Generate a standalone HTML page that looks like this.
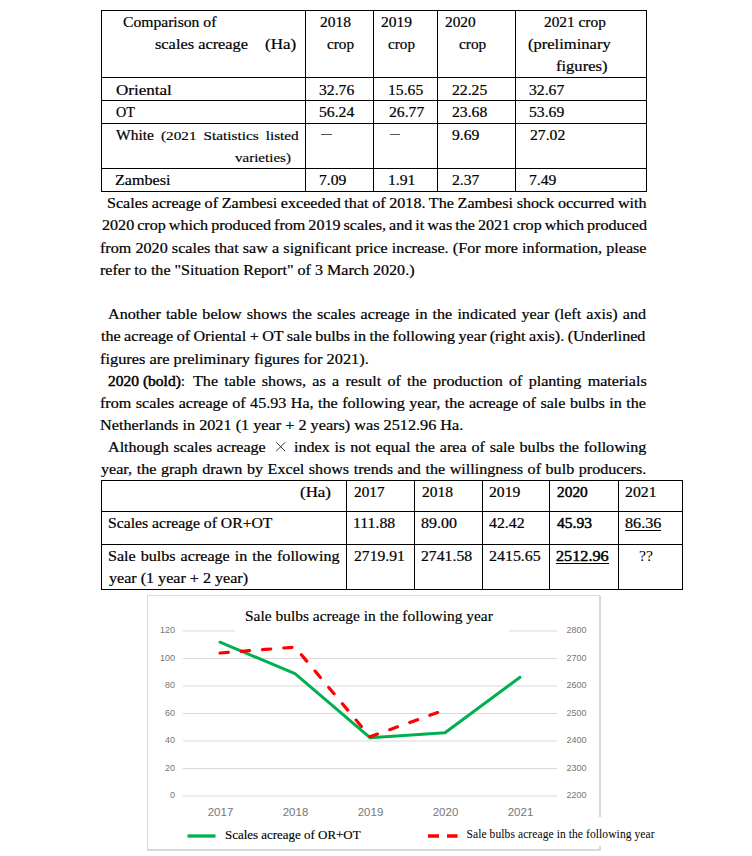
<!DOCTYPE html>
<html><head><meta charset="utf-8">
<style>
html,body{margin:0;padding:0;background:#fff;}
body{width:752px;height:856px;position:relative;overflow:hidden;font-family:"Liberation Serif", serif;color:#000;}
.t{position:absolute;white-space:pre;line-height:0;font-size:14px;transform-origin:0 0;-webkit-text-stroke:0.2px #000;}
.s{-webkit-text-stroke:0;}
.s2{-webkit-text-stroke:0.15px #000;}
.h{position:absolute;height:1px;background:#000;}
.v{position:absolute;width:1px;background:#000;}
svg{position:absolute;left:0;top:0;}
b{font-weight:normal;-webkit-text-stroke:0.45px #000;}
</style></head><body>
<!-- table 1 -->
<div class="h" style="left:101px;top:10px;width:546px"></div>
<div class="h" style="left:101px;top:77px;width:546px"></div>
<div class="h" style="left:101px;top:100px;width:546px"></div>
<div class="h" style="left:101px;top:123px;width:546px"></div>
<div class="h" style="left:101px;top:168px;width:546px"></div>
<div class="h" style="left:101px;top:191px;width:546px"></div>
<div class="v" style="left:101px;top:10px;height:182px"></div>
<div class="v" style="left:305px;top:10px;height:182px"></div>
<div class="v" style="left:373px;top:10px;height:182px"></div>
<div class="v" style="left:437px;top:10px;height:182px"></div>
<div class="v" style="left:515px;top:10px;height:182px"></div>
<div class="v" style="left:646px;top:10px;height:182px"></div>
<div class="h" style="left:321px;top:134px;width:11px;background:#555"></div>
<div class="h" style="left:390px;top:134px;width:10px;background:#555"></div>
<!-- table 2 -->
<div class="h" style="left:101px;top:480px;width:582px"></div>
<div class="h" style="left:101px;top:511px;width:582px"></div>
<div class="h" style="left:101px;top:544px;width:582px"></div>
<div class="h" style="left:101px;top:589px;width:582px"></div>
<div class="v" style="left:101px;top:480px;height:110px"></div>
<div class="v" style="left:346px;top:480px;height:110px"></div>
<div class="v" style="left:414px;top:480px;height:110px"></div>
<div class="v" style="left:482px;top:480px;height:110px"></div>
<div class="v" style="left:549px;top:480px;height:110px"></div>
<div class="v" style="left:618px;top:480px;height:110px"></div>
<div class="v" style="left:682px;top:480px;height:110px"></div>
<!-- chart -->
<svg width="752" height="856" viewBox="0 0 752 856">
  <rect x="147.5" y="595.5" width="452" height="255" fill="#fff" stroke="#d9d9d9" stroke-width="1"/>
  <line x1="600" y1="596" x2="600" y2="851" stroke="#d9d9d9" stroke-width="2"/>
  <line x1="148" y1="850" x2="601" y2="850" stroke="#d9d9d9" stroke-width="2"/>
  <g stroke="#d9d9d9" stroke-width="1.2">
    <line x1="183" y1="631" x2="557" y2="631"/>
    <line x1="183" y1="658.5" x2="557" y2="658.5"/>
    <line x1="183" y1="686" x2="557" y2="686"/>
    <line x1="183" y1="713.5" x2="557" y2="713.5"/>
    <line x1="183" y1="741" x2="557" y2="741"/>
    <line x1="183" y1="768.5" x2="557" y2="768.5"/>
    <line x1="183" y1="796" x2="557" y2="796"/>
  </g>
  <rect x="235" y="603" width="274" height="36" fill="#fff"/>
  <rect x="420" y="817" width="240" height="29" fill="#fff"/>
  <g font-family="Liberation Sans, sans-serif" font-size="9" fill="#767676" text-anchor="end">
    <text x="175.1" y="633.3">120</text>
    <text x="175.1" y="660.8">100</text>
    <text x="175.1" y="688.3">80</text>
    <text x="175.1" y="715.8">60</text>
    <text x="175.1" y="743.3">40</text>
    <text x="175.1" y="770.8">20</text>
    <text x="175.1" y="798.3">0</text>
  </g>
  <g font-family="Liberation Sans, sans-serif" font-size="9" fill="#767676">
    <text x="566.5" y="633.3">2800</text>
    <text x="566.5" y="660.8">2700</text>
    <text x="566.5" y="688.3">2600</text>
    <text x="566.5" y="715.8">2500</text>
    <text x="566.5" y="743.3">2400</text>
    <text x="566.5" y="770.8">2300</text>
    <text x="566.5" y="798.3">2200</text>
  </g>
  <g font-family="Liberation Sans, sans-serif" font-size="11.5" fill="#767676" text-anchor="middle">
    <text x="220.5" y="816">2017</text>
    <text x="295.5" y="816">2018</text>
    <text x="370.5" y="816">2019</text>
    <text x="445.5" y="816">2020</text>
    <text x="520.5" y="816">2021</text>
  </g>
  <polyline points="220,642.2 295,673.6 370,737.7 445,732.8 520,677.3" fill="none" stroke="#00b050" stroke-width="3" stroke-linejoin="round" stroke-linecap="round"/>
  <polyline points="220,653 295,647.1 370,736.7 445,709.9" fill="none" stroke="#ff0000" stroke-width="3.2" stroke-dasharray="8.3 13" stroke-linejoin="round" stroke-linecap="round"/>
  <line x1="187.5" y1="836" x2="215.5" y2="836" stroke="#00b050" stroke-width="3.3"/>
  <line x1="428" y1="836" x2="457.5" y2="836" stroke="#ff0000" stroke-width="3.3" stroke-dasharray="11 8"/>
</svg>
<svg width="752" height="856" style="position:absolute;left:0;top:0"><path d="M276.2 442.2 L285.2 451.2 M285.2 442.2 L276.2 451.2" stroke="#111" stroke-width="0.85" fill="none"/></svg>
<div class="t" style="left:122.60px;top:23px;transform:scaleX(1.1167);">Comparison of</div>
<div class="t" style="left:154.73px;top:45px;transform:scaleX(1.1679);">scales acreage</div>
<div class="t" style="left:265.18px;top:45px;transform:scaleX(1.2167);">(Ha)</div>
<div class="t" style="left:319.50px;top:23px;transform:scaleX(1.1071);">2018</div>
<div class="t" style="left:326.80px;top:45px;transform:scaleX(1.0840);">crop</div>
<div class="t" style="left:381.00px;top:23px;transform:scaleX(1.1071);">2019</div>
<div class="t" style="left:388.20px;top:45px;transform:scaleX(1.0840);">crop</div>
<div class="t" style="left:444.60px;top:23px;transform:scaleX(1.0964);">2020</div>
<div class="t" style="left:458.60px;top:45px;transform:scaleX(1.0960);">crop</div>
<div class="t" style="left:543.70px;top:23px;transform:scaleX(1.0964);">2021 crop</div>
<div class="t" style="left:528.42px;top:45px;transform:scaleX(1.1812);">(preliminary</div>
<div class="t" style="left:556.32px;top:67px;transform:scaleX(1.1810);">figures)</div>
<div class="t" style="left:115.70px;top:91px;transform:scaleX(1.2178);">Oriental</div>
<div class="t" style="left:318.88px;top:91px;transform:scaleX(1.1200);">32.76</div>
<div class="t" style="left:387.78px;top:91px;transform:scaleX(1.1200);">15.65</div>
<div class="t" style="left:452.00px;top:91px;transform:scaleX(1.1200);">22.25</div>
<div class="t" style="left:528.78px;top:91px;transform:scaleX(1.1200);">32.67</div>
<div class="t" style="left:115.70px;top:113px;transform:scaleX(1.0158);">OT</div>
<div class="t" style="left:318.88px;top:113px;transform:scaleX(1.1200);">56.24</div>
<div class="t" style="left:388.90px;top:113px;transform:scaleX(1.1200);">26.77</div>
<div class="t" style="left:452.00px;top:113px;transform:scaleX(1.1200);">23.68</div>
<div class="t" style="left:528.78px;top:113px;transform:scaleX(1.1200);">53.69</div>
<div class="t" style="left:114.55px;top:181px;transform:scaleX(1.1511);">Zambesi</div>
<div class="t" style="left:318.88px;top:181px;transform:scaleX(1.1200);">7.09</div>
<div class="t" style="left:387.78px;top:181px;transform:scaleX(1.1200);">1.91</div>
<div class="t" style="left:452.00px;top:181px;transform:scaleX(1.1200);">2.37</div>
<div class="t" style="left:528.78px;top:181px;transform:scaleX(1.1200);">7.49</div>
<div class="t" style="left:115.90px;top:136px;transform:scaleX(1.1088);">White</div>
<div class="t s2" style="left:160.78px;top:136px;font-size:12.5px;transform:scaleX(1.2200);word-spacing:2.615px;">(2021 Statistics listed</div>
<div class="t s2" style="left:235.40px;top:158px;font-size:12.5px;transform:scaleX(1.2022);">varieties)</div>
<div class="t" style="left:452.40px;top:136px;transform:scaleX(1.1200);">9.69</div>
<div class="t" style="left:529.90px;top:136px;transform:scaleX(1.1200);">27.02</div>
<div class="t" style="left:107.45px;top:204px;transform:scaleX(1.1500);word-spacing:-0.308px;">Scales acreage of Zambesi exceeded that of 2018. The Zambesi shock occurred with</div>
<div class="t" style="left:101.50px;top:226px;transform:scaleX(1.1500);word-spacing:-0.894px;">2020 crop which produced from 2019 scales, and it was the 2021 crop which produced</div>
<div class="t" style="left:100.15px;top:249px;transform:scaleX(1.1500);word-spacing:0.138px;">from 2020 scales that saw a significant price increase. (For more information, please</div>
<div class="t" style="left:100.15px;top:271px;transform:scaleX(1.1484);">refer to the "Situation Report" of 3 March 2020.)</div>
<div class="t" style="left:108.20px;top:315px;transform:scaleX(1.1500);word-spacing:0.973px;">Another table below shows the scales acreage in the indicated year (left axis) and</div>
<div class="t" style="left:101.30px;top:337px;transform:scaleX(1.1500);word-spacing:-0.525px;">the acreage of Oriental + OT sale bulbs in the following year (right axis). (Underlined</div>
<div class="t" style="left:100.13px;top:360px;transform:scaleX(1.1680);">figures are preliminary figures for 2021).</div>
<div class="t" style="left:108.20px;top:382px;transform:scaleX(1.1087);"><b>2020 (bold)</b>:</div>
<div class="t" style="left:192.60px;top:382px;transform:scaleX(1.1500);word-spacing:1.933px;">The table shows, as a result of the production of planting materials</div>
<div class="t" style="left:100.15px;top:404px;transform:scaleX(1.1500);word-spacing:0.377px;">from scales acreage of 45.93 Ha, the following year, the acreage of sale bulbs in the</div>
<div class="t" style="left:100.14px;top:426px;transform:scaleX(1.1590);">Netherlands in 2021 (1 year + 2 years) was 2512.96 Ha.</div>
<div class="t" style="left:108.20px;top:448px;transform:scaleX(1.1500);word-spacing:0.565px;">Although scales acreage</div>
<div class="t" style="left:294.05px;top:448px;transform:scaleX(1.1500);word-spacing:0.704px;">index is not equal the area of sale bulbs the following</div>
<div class="t" style="left:101.30px;top:470px;transform:scaleX(1.1500);word-spacing:0.478px;">year, the graph drawn by Excel shows trends and the willingness of bulb producers.</div>
<div class="t" style="left:300.09px;top:493px;transform:scaleX(1.2083);">(Ha)</div>
<div class="t" style="left:353.80px;top:493px;transform:scaleX(1.0929);">2017</div>
<div class="t" style="left:421.70px;top:493px;transform:scaleX(1.1107);">2018</div>
<div class="t" style="left:489.00px;top:493px;transform:scaleX(1.1179);">2019</div>
<div class="t" style="left:625.40px;top:493px;transform:scaleX(1.1259);">2021</div>
<div class="t" style="left:557.40px;top:493px;transform:scaleX(1.1000);-webkit-text-stroke:0.45px #000;">2020</div>
<div class="t" style="left:107.68px;top:524px;transform:scaleX(1.1212);">Scales acreage of OR+OT</div>
<div class="t" style="left:353.38px;top:524px;transform:scaleX(1.1250);">111.88</div>
<div class="t" style="left:421.40px;top:524px;transform:scaleX(1.1387);">89.00</div>
<div class="t" style="left:489.00px;top:524px;transform:scaleX(1.1323);">42.42</div>
<div class="t" style="left:556.90px;top:524px;transform:scaleX(1.1129);-webkit-text-stroke:0.45px #000;">45.93</div>
<div class="t" style="left:625.00px;top:524px;transform:scaleX(1.1548);">86.36</div>
<div class="t" style="left:107.65px;top:557px;transform:scaleX(1.1500);word-spacing:0.852px;">Sale bulbs acreage in the following</div>
<div class="t" style="left:108.80px;top:579px;transform:scaleX(1.1488);">year (1 year + 2 year)</div>
<div class="t" style="left:354.00px;top:557px;transform:scaleX(1.1178);">2719.91</div>
<div class="t" style="left:421.40px;top:557px;transform:scaleX(1.1244);">2741.58</div>
<div class="t" style="left:489.00px;top:557px;transform:scaleX(1.1378);">2415.65</div>
<div class="t" style="left:556.30px;top:557px;transform:scaleX(1.1578);-webkit-text-stroke:0.45px #000;">2512.96</div>
<div class="t s" style="left:638.58px;top:557px;transform:scaleX(1.1182);">??</div>
<div class="t s2" style="left:244.60px;top:617px;transform:scaleX(1.1031);">Sale bulbs acreage in the following year</div>
<div class="t s2" style="left:224.90px;top:835px;font-size:13px;transform:scaleX(0.9956);">Scales acreage of OR+OT</div>
<div class="t s" style="left:466.50px;top:834px;font-size:11.5px;letter-spacing:0.090px;">Sale bulbs acreage in the following year</div>
<div class="h" style="left:625px;top:530px;width:36px"></div>
<div class="h" style="left:556px;top:563px;width:53px"></div>
</body></html>
